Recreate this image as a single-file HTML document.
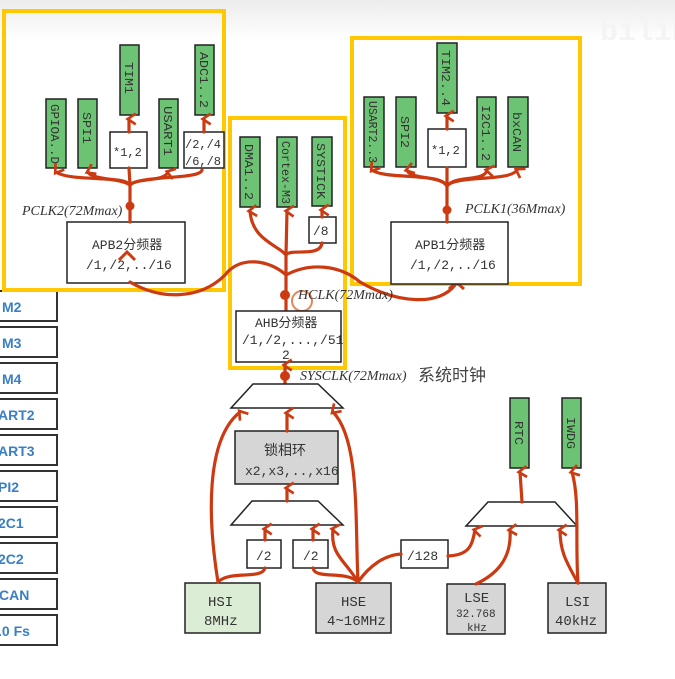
<!DOCTYPE html>
<html><head><meta charset="utf-8"><style>
html,body{margin:0;padding:0;background:#fff;}
svg{display:block;}
text{font-family:"Liberation Mono","Noto Sans CJK SC",monospace;fill:#333;}
.g{fill:#6cc373;stroke:#222;stroke-width:1.5;}
.w{fill:#fff;stroke:#222;stroke-width:1.5;}
.gr{fill:#d6d6d6;stroke:#222;stroke-width:1.5;}
.y{fill:none;stroke:#ffc800;stroke-width:4;}
.r{fill:none;stroke:#cc3a12;stroke-width:3.2;stroke-linecap:round;marker-end:url(#a);}
.rn{fill:none;stroke:#cc3a12;stroke-width:3.2;stroke-linecap:round;}
.lb{fill:#fff;stroke:#333;stroke-width:2;}
.bl{font-family:"Liberation Sans",sans-serif;font-weight:bold;fill:#3a7fc4;font-size:14px;}
.it{font-family:"Liberation Serif",serif;font-style:italic;font-size:14px;fill:#333;}
.v{font-size:12px;}
</style></head><body>
<svg width="675" height="679" viewBox="0 0 675 679" xmlns="http://www.w3.org/2000/svg">
<defs>
<marker id="a" viewBox="0 0 10 10" refX="5" refY="3" markerWidth="4.2" markerHeight="4.2" orient="auto-start-reverse" markerUnits="strokeWidth">
<path d="M1,8 L5,2 L9,8" fill="none" stroke="#cc3a12" stroke-width="2"/>
</marker>
<linearGradient id="bg" x1="0" y1="0" x2="0" y2="1"><stop offset="0" stop-color="#ececec"/><stop offset="1" stop-color="#fff"/></linearGradient>
</defs>
<rect x="0" y="0" width="675" height="40" fill="url(#bg)"/>
<text x="600" y="40" font-size="30" font-family="Liberation Sans" font-weight="bold" style="fill:#f4f4f4">bilibili</text>

<!-- left list -->
<g>
<rect class="lb" x="-5" y="291" width="62" height="30"/><text class="bl" x="2" y="312">M2</text>
<rect class="lb" x="-5" y="327" width="62" height="30"/><text class="bl" x="2" y="348">M3</text>
<rect class="lb" x="-5" y="363" width="62" height="30"/><text class="bl" x="2" y="384">M4</text>
<rect class="lb" x="-5" y="399" width="62" height="30"/><text class="bl" x="-2" y="420">ART2</text>
<rect class="lb" x="-5" y="435" width="62" height="30"/><text class="bl" x="-2" y="456">ART3</text>
<rect class="lb" x="-5" y="471" width="62" height="30"/><text class="bl" x="-2" y="492">PI2</text>
<rect class="lb" x="-5" y="507" width="62" height="30"/><text class="bl" x="-2" y="528">2C1</text>
<rect class="lb" x="-5" y="543" width="62" height="30"/><text class="bl" x="-2" y="564">2C2</text>
<rect class="lb" x="-5" y="579" width="62" height="30"/><text class="bl" x="-1" y="600">CAN</text>
<rect class="lb" x="-5" y="615" width="62" height="30"/><text class="bl" x="-2" y="636">.0 Fs</text>
</g>

<!-- yellow frames -->
<rect class="y" x="4" y="11" width="220" height="279"/>
<rect class="y" x="230" y="118" width="115" height="250"/>
<rect class="y" x="352" y="38" width="228" height="246"/>

<!-- APB2 group -->
<rect class="g" x="46" y="99" width="20" height="69"/>
<rect class="g" x="78" y="99" width="19" height="69"/>
<rect class="g" x="120" y="45" width="19" height="70"/>
<rect class="g" x="159" y="99" width="19" height="69"/>
<rect class="g" x="195" y="45" width="19" height="70"/>
<g class="v">
<text transform="translate(51,104) rotate(90)" textLength="60" lengthAdjust="spacingAndGlyphs">GPIOA..D</text>
<text transform="translate(83,112) rotate(90)" textLength="32" lengthAdjust="spacingAndGlyphs">SPI1</text>
<text transform="translate(125,62) rotate(90)" textLength="32" lengthAdjust="spacingAndGlyphs">TIM1</text>
<text transform="translate(164,106) rotate(90)" textLength="50" lengthAdjust="spacingAndGlyphs">USART1</text>
<text transform="translate(200,52) rotate(90)" textLength="56" lengthAdjust="spacingAndGlyphs">ADC1..2</text>
</g>
<rect class="w" x="110" y="132" width="37" height="36"/><text x="113" y="156" font-size="12">*1,2</text>
<rect class="w" x="184" y="132" width="40" height="36"/><text x="185" y="148" font-size="12">/2,/4</text><text x="185" y="165" font-size="12">/6,/8</text>
<rect class="w" x="67" y="222" width="118" height="61"/>
<text x="92" y="249" font-size="13">APB2分频器</text><text x="86" y="269" font-size="13">/1,/2,../16</text>
<text class="it" x="22" y="215">PCLK2(72Mmax)</text>
<path class="rn" d="M130,222 L130,185"/>
<path class="r" d="M130,185 C125,175 70,182 56,172"/>
<path class="r" d="M130,185 C120,178 92,180 88,172"/>
<path class="r" d="M130,185 C135,178 165,182 168,172"/>
<path class="rn" d="M130,185 C140,175 200,180 202,170"/>
<path class="rn" d="M130,185 L129,168"/>
<path class="r" d="M129,132 L129,119"/>
<path class="r" d="M204,132 L204,119"/>
<circle cx="130" cy="206" r="4.5" fill="#cc3a12"/>

<!-- AHB group -->
<rect class="g" x="240" y="137" width="20" height="70"/>
<rect class="g" x="277" y="137" width="20" height="70"/>
<rect class="g" x="312" y="137" width="20" height="69"/>
<g class="v">
<text transform="translate(245,144) rotate(90)" textLength="56" lengthAdjust="spacingAndGlyphs">DMA1..2</text>
<text transform="translate(282,141) rotate(90)" textLength="63" lengthAdjust="spacingAndGlyphs">Cortex-M3</text>
<text transform="translate(317,143) rotate(90)" textLength="56" lengthAdjust="spacingAndGlyphs">SYSTICK</text>
</g>
<rect class="w" x="309" y="217" width="27" height="26"/><text x="313" y="235" font-size="13">/8</text>
<path class="rn" d="M286,311 L286,255"/>
<path class="r" d="M286,255 C278,245 252,240 250,211"/>
<path class="r" d="M286,255 L287,211"/>
<path class="rn" d="M286,255 C290,248 320,258 322,243"/>
<path class="r" d="M322,217 L322,210"/>
<path class="rn" d="M286,275 C270,260 240,255 225,275 C200,300 160,300 130,282"/>
<path class="rn" d="M286,275 C310,262 340,265 360,282 C400,305 440,305 455,285"/>
<path d="M119,260 L127,252 L135,260" fill="none" stroke="#cc3a12" stroke-width="3"/>
<path d="M449,289 L456,282 L464,289" fill="none" stroke="#cc3a12" stroke-width="3"/>
<circle cx="285" cy="295" r="5" fill="#cc3a12"/>
<circle cx="302" cy="301" r="10" fill="none" stroke="#e8845a" stroke-width="2"/>
<text class="it" x="298" y="299">HCLK(72Mmax)</text>
<rect class="w" x="236" y="311" width="105" height="51"/>
<text x="255" y="327" font-size="13">AHB分频器</text><text x="242" y="344" font-size="13">/1,/2,...,/51</text><text x="282" y="359" font-size="13">2</text>
<path class="r" d="M285,384 L285,365"/>
<circle cx="285" cy="376" r="5" fill="#cc3a12"/>
<text class="it" x="300" y="380">SYSCLK(72Mmax)</text><text x="418" y="381" font-size="17" font-family="Noto Sans CJK SC" style="fill:#444">系统时钟</text>

<!-- APB1 group -->
<rect class="g" x="364" y="97" width="20" height="70"/>
<rect class="g" x="396" y="97" width="20" height="70"/>
<rect class="g" x="437" y="43" width="20" height="70"/>
<rect class="g" x="477" y="97" width="19" height="70"/>
<rect class="g" x="508" y="97" width="20" height="70"/>
<g class="v">
<text transform="translate(369,101) rotate(90)" textLength="62" lengthAdjust="spacingAndGlyphs">USART2..3</text>
<text transform="translate(401,116) rotate(90)" textLength="32" lengthAdjust="spacingAndGlyphs">SPI2</text>
<text transform="translate(442,50) rotate(90)" textLength="56" lengthAdjust="spacingAndGlyphs">TIM2..4</text>
<text transform="translate(482,105) rotate(90)" textLength="56" lengthAdjust="spacingAndGlyphs">I2C1..2</text>
<text transform="translate(513,112) rotate(90)" textLength="40" lengthAdjust="spacingAndGlyphs">bxCAN</text>
</g>
<rect class="w" x="428" y="129" width="38" height="38"/><text x="431" y="154" font-size="12">*1,2</text>
<rect class="w" x="391" y="222" width="117" height="62"/>
<text x="415" y="249" font-size="13">APB1分频器</text><text x="410" y="269" font-size="13">/1,/2,../16</text>
<text class="it" x="465" y="213">PCLK1(36Mmax)</text>
<path class="rn" d="M447,222 L447,186"/>
<path class="r" d="M447,186 C440,172 385,180 372,170"/>
<path class="r" d="M447,186 C440,175 410,180 407,170"/>
<path class="r" d="M447,186 C455,175 485,182 487,170"/>
<path class="r" d="M447,186 C455,175 510,182 517,170"/>
<path class="rn" d="M447,186 L447,168"/>
<path class="r" d="M447,129 L447,116"/>
<circle cx="447" cy="210" r="4.5" fill="#cc3a12"/>

<!-- bottom -->
<path d="M253,384 L318,384 L343,408 L231,408 Z" fill="#fff" stroke="#222" stroke-width="1.5"/>
<rect class="gr" x="235" y="431" width="103" height="53"/>
<text x="264" y="455" font-size="14">锁相环</text><text x="245" y="475" font-size="13">x2,x3,..,x16</text>
<path d="M252,501 L318,501 L343,525 L231,525 Z" fill="#fff" stroke="#222" stroke-width="1.5"/>
<rect class="w" x="247" y="540" width="34" height="28"/><text x="256" y="560" font-size="13">/2</text>
<rect class="w" x="293" y="540" width="35" height="28"/><text x="303" y="560" font-size="13">/2</text>
<rect class="w" x="401" y="540" width="47" height="28"/><text x="407" y="560" font-size="13">/128</text>
<rect x="185" y="583" width="75" height="50" fill="#dcedd6" stroke="#222" stroke-width="1.5"/>
<text x="208" y="606" font-size="14">HSI</text><text x="204" y="625" font-size="14">8MHz</text>
<rect class="gr" x="316" y="583" width="75" height="50"/>
<text x="341" y="606" font-size="14">HSE</text><text x="327" y="625" font-size="14">4~16MHz</text>
<rect class="gr" x="447" y="584" width="58" height="50"/>
<text x="464" y="602" font-size="14">LSE</text><text x="456" y="617" font-size="11">32.768</text><text x="467" y="631" font-size="11">kHz</text>
<rect class="gr" x="548" y="583" width="58" height="50"/>
<text x="565" y="606" font-size="14">LSI</text><text x="555" y="625" font-size="14">40kHz</text>
<rect class="g" x="510" y="398" width="19" height="70"/>
<rect class="g" x="562" y="398" width="19" height="70"/>
<text transform="translate(515,421) rotate(90)" class="v" textLength="24" lengthAdjust="spacingAndGlyphs">RTC</text>
<text transform="translate(567,417) rotate(90)" class="v" textLength="32" lengthAdjust="spacingAndGlyphs">IWDG</text>
<path d="M488,502 L555,502 L577,526 L466,526 Z" fill="#fff" stroke="#222" stroke-width="1.5"/>

<path class="r" d="M287,431 L287,413"/>
<path class="r" d="M287,501 L287,488"/>
<path class="r" d="M218,582 C208,520 205,440 240,412"/>
<path class="rn" d="M218,582 C230,570 262,580 265,568"/>
<path class="r" d="M265,540 L265,529"/>
<path class="rn" d="M358,582 C345,570 315,580 313,568"/>
<path class="r" d="M313,540 L313,529"/>
<path class="r" d="M358,582 C345,560 330,555 333,529"/>
<path class="r" d="M358,582 C355,520 360,440 333,412"/>
<path class="rn" d="M358,582 C370,565 385,555 401,554"/>
<path class="r" d="M448,556 C470,555 472,545 475,530"/>
<path class="r" d="M476,584 C495,575 512,560 510,530"/>
<path class="r" d="M578,583 C565,560 560,550 560,530"/>
<path class="r" d="M578,583 C575,540 580,500 572,472"/>
<path class="r" d="M522,502 L520,472"/>
</svg>
</body></html>
